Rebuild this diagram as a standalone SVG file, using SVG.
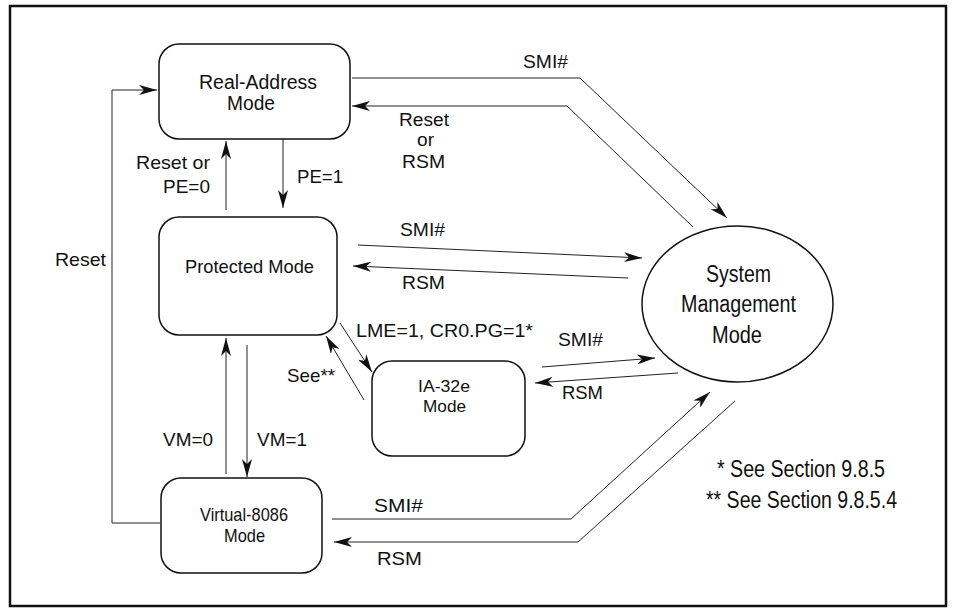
<svg xmlns="http://www.w3.org/2000/svg" width="954" height="612" viewBox="0 0 954 612">
<style>
text{font-family:"Liberation Sans",Arial,sans-serif;fill:#111}
.n{fill:#fff;stroke:#111;stroke-width:1.5}
.c{fill:none;stroke:#222;stroke-width:1}
.a{marker-end:url(#ah)}
.f18{font-size:18px}
.f19{font-size:19px}
.f20{font-size:20px}
.f17{font-size:17px}
.f23{font-size:23px}
</style>
<defs>
<marker id="ah" markerUnits="userSpaceOnUse" markerWidth="18" markerHeight="10" refX="18" refY="5" orient="auto">
<path d="M0,0 L18,5 L0,10 L5,5 Z" fill="#111"/>
</marker>
</defs>
<rect x="0" y="0" width="954" height="612" fill="#fff"/>
<rect x="10" y="6" width="936" height="600" fill="none" stroke="#111" stroke-width="2.5"/>

<g id="connectors">
<polyline class="c a" points="160,523 112,523 112,90 157,90"/>
<polyline class="c a" points="352,78 580,78 727,218"/>
<polyline class="c a" points="693,227 567,106 352,106"/>
<line class="c a" x1="226" y1="210" x2="226" y2="141"/>
<line class="c a" x1="283" y1="139" x2="283" y2="208"/>
<line class="c a" x1="358" y1="245" x2="642" y2="258"/>
<line class="c a" x1="628" y1="278" x2="353" y2="266"/>
<line class="c a" x1="340" y1="323" x2="372" y2="372"/>
<line class="c a" x1="364" y1="400" x2="326" y2="336"/>
<line class="c a" x1="542" y1="367" x2="655" y2="358"/>
<line class="c a" x1="678" y1="373" x2="535" y2="383"/>
<line class="c a" x1="247" y1="345" x2="247" y2="477"/>
<line class="c a" x1="226" y1="474" x2="226" y2="338"/>
<polyline class="c a" points="332,519 571,519 710,392"/>
<polyline class="c a" points="735,401 578,542 334,542"/>
</g>

<g id="labels">
<text class="f19" x="523" y="68" textLength="45" lengthAdjust="spacingAndGlyphs">SMI#</text>
<text class="f18" x="399" y="126" textLength="50" lengthAdjust="spacingAndGlyphs">Reset</text>
<text class="f18" x="417" y="146" textLength="17" lengthAdjust="spacingAndGlyphs">or</text>
<text class="f18" x="402" y="168" textLength="43" lengthAdjust="spacingAndGlyphs">RSM</text>
<text class="f19" x="136" y="169" textLength="74" lengthAdjust="spacingAndGlyphs">Reset or</text>
<text class="f19" x="163" y="193" textLength="47" lengthAdjust="spacingAndGlyphs">PE=0</text>
<text class="f19" x="297" y="183" textLength="46" lengthAdjust="spacingAndGlyphs">PE=1</text>
<text class="f19" x="55" y="266" textLength="51" lengthAdjust="spacingAndGlyphs">Reset</text>
<text class="f19" x="400" y="236" textLength="45" lengthAdjust="spacingAndGlyphs">SMI#</text>
<text class="f19" x="402" y="289" textLength="43" lengthAdjust="spacingAndGlyphs">RSM</text>
<text class="f19" x="356" y="337" textLength="177" lengthAdjust="spacingAndGlyphs">LME=1, CR0.PG=1*</text>
<text class="f19" x="287" y="382" textLength="48" lengthAdjust="spacingAndGlyphs">See**</text>
<text class="f19" x="558" y="346" textLength="45" lengthAdjust="spacingAndGlyphs">SMI#</text>
<text class="f19" x="562" y="399" textLength="41" lengthAdjust="spacingAndGlyphs">RSM</text>
<text class="f19" x="163" y="446" textLength="50" lengthAdjust="spacingAndGlyphs">VM=0</text>
<text class="f19" x="257" y="446" textLength="50" lengthAdjust="spacingAndGlyphs">VM=1</text>
<text class="f19" x="374" y="512" textLength="49" lengthAdjust="spacingAndGlyphs">SMI#</text>
<text class="f19" x="377" y="565" textLength="45" lengthAdjust="spacingAndGlyphs">RSM</text>
<text class="f23" x="717" y="477" textLength="168" lengthAdjust="spacingAndGlyphs">* See Section 9.8.5</text>
<text class="f23" x="706" y="508" textLength="191" lengthAdjust="spacingAndGlyphs">** See Section 9.8.5.4</text>
</g>

<g id="real-address">
<rect class="n" x="159" y="44" width="191" height="95" rx="20"/>
<text class="f20" x="199" y="89" textLength="118" lengthAdjust="spacingAndGlyphs">Real-Address</text>
<text class="f20" x="227" y="110" textLength="48" lengthAdjust="spacingAndGlyphs">Mode</text>
</g>
<g id="protected">
<rect class="n" x="159" y="217" width="178" height="118" rx="20"/>
<text class="f19" x="185" y="273" textLength="129" lengthAdjust="spacingAndGlyphs">Protected Mode</text>
</g>
<g id="ia32e">
<rect class="n" x="372" y="361" width="153" height="95" rx="20"/>
<text class="f17" x="418" y="392" textLength="52" lengthAdjust="spacingAndGlyphs">IA-32e</text>
<text class="f17" x="423" y="412" textLength="43" lengthAdjust="spacingAndGlyphs">Mode</text>
</g>
<g id="virtual-8086">
<rect class="n" x="161" y="478" width="161" height="95" rx="20"/>
<text class="f19" x="200" y="521" textLength="88" lengthAdjust="spacingAndGlyphs">Virtual-8086</text>
<text class="f19" x="224" y="542" textLength="41" lengthAdjust="spacingAndGlyphs">Mode</text>
</g>
<g id="smm">
<ellipse class="n" cx="737.5" cy="304" rx="95.5" ry="78"/>
<text class="f23" x="706" y="282" textLength="65" lengthAdjust="spacingAndGlyphs">System</text>
<text class="f23" x="681" y="312" textLength="115" lengthAdjust="spacingAndGlyphs">Management</text>
<text class="f23" x="712" y="343" textLength="50" lengthAdjust="spacingAndGlyphs">Mode</text>
</g>
</svg>
